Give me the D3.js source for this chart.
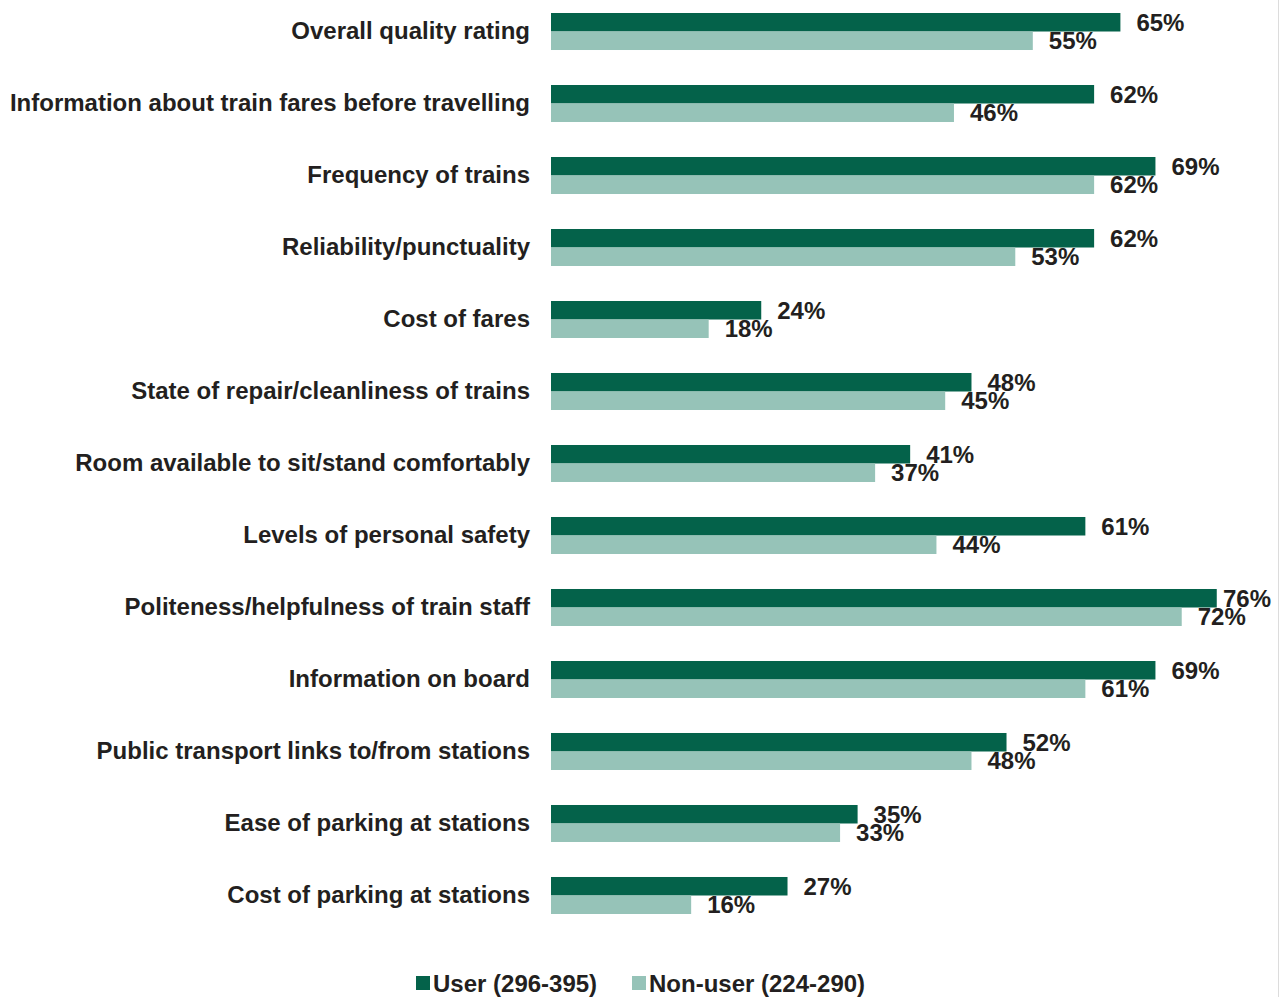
<!DOCTYPE html>
<html>
<head>
<meta charset="utf-8">
<script src="https://cdn.jsdelivr.net/npm/d3@7"></script>
<style>
  html, body { margin: 0; padding: 0; background: #ffffff; }
  svg { display: block; }
  text { font-family: "Liberation Sans", Arial, sans-serif; font-weight: bold; fill: #231f20; }
</style>
</head>
<body>
<svg id="chart" width="1285" height="997"></svg>
<script>
// Satisfaction aspects, top to bottom
const categories = [
  "Overall quality rating",
  "Information about train fares before travelling",
  "Frequency of trains",
  "Reliability/punctuality",
  "Cost of fares",
  "State of repair/cleanliness of trains",
  "Room available to sit/stand comfortably",
  "Levels of personal safety",
  "Politeness/helpfulness of train staff",
  "Information on board",
  "Public transport links to/from stations",
  "Ease of parking at stations",
  "Cost of parking at stations"
];
const seriesNames = ["User (296-395)", "Non-user (224-290)"];
const userValues    = [65, 62, 69, 62, 24, 48, 41, 61, 76, 69, 52, 35, 27];
const nonUserValues = [55, 46, 62, 53, 18, 45, 37, 44, 72, 61, 48, 33, 16];
const colors = ["#04624a", "#96c3b8"];

const svg = d3.select("#chart");
const seriesKeys = ["user", "nonUser"];
const rows = categories.map((c, i) => ({ cat: c, user: userValues[i], nonUser: nonUserValues[i] }));

const x = d3.scaleLinear().domain([0, 100]).range([551, 1427]);
const y = d3.scaleBand().domain(categories).range([13, 914]).paddingInner(0.486).paddingOuter(0);
const ySub = d3.scaleBand().domain(seriesKeys).range([0, y.bandwidth()]).padding(0);
const color = d3.scaleOrdinal().domain(seriesKeys).range(colors);

// right frame edge
svg.append("line").attr("x1", 1278.5).attr("x2", 1278.5).attr("y1", 0).attr("y2", 997)
  .attr("stroke", "#dcdcdc").attr("stroke-width", 1);

// category labels
const yAxis = d3.axisLeft(y).tickSize(0).tickPadding(0);
const gAxis = svg.append("g").attr("transform", "translate(530,0)").call(yAxis);
gAxis.select(".domain").remove();
gAxis.selectAll("text")
  .attr("font-family", "'Liberation Sans', Arial, sans-serif")
  .attr("font-weight", "bold")
  .attr("font-size", 24)
  .attr("fill", "#231f20");

const groups = svg.append("g").selectAll("g").data(rows).join("g")
  .attr("transform", d => `translate(0,${y(d.cat)})`);

groups.selectAll("rect").data(d => seriesKeys.map(k => ({ key: k, value: d[k] }))).join("rect")
  .attr("x", x(0))
  .attr("y", d => ySub(d.key))
  .attr("width", d => x(d.value) - x(0))
  .attr("height", ySub.bandwidth())
  .attr("fill", d => color(d.key));

groups.selectAll("text.val").data(d => seriesKeys.map(k => ({ key: k, value: d[k] }))).join("text")
  .attr("class", "val")
  .attr("x", d => Math.min(x(d.value) + 16, 1223))
  .attr("y", d => ySub(d.key) + ySub.bandwidth() / 2)
  .attr("dy", "0.36em")
  .attr("font-size", 24)
  .text(d => d.value + "%");

// legend
const legendItems = [
  { key: "user", label: seriesNames[0], x: 416 },
  { key: "nonUser", label: seriesNames[1], x: 632 }
];
const lg = svg.append("g").selectAll("g").data(legendItems).join("g")
  .attr("transform", d => `translate(${d.x},976)`);
lg.append("rect").attr("width", 14).attr("height", 14).attr("fill", d => color(d.key));
lg.append("text").attr("x", 17).attr("y", 7).attr("dy", "0.36em").attr("font-size", 24)
  .text(d => d.label);
</script>
</body>
</html>
